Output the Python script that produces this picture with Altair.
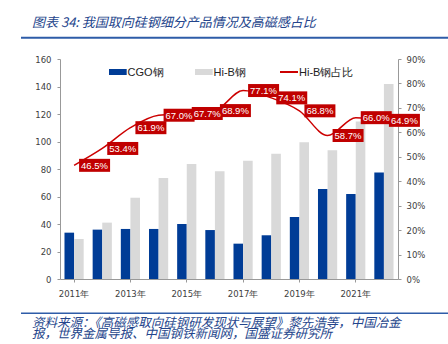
import altair as alt
import pandas as pd

years = ["2011年", "2012年", "2013年", "2014年", "2015年", "2016年",
         "2017年", "2018年", "2019年", "2020年", "2021年", "2022年"]
cgo = [33.7, 35.9, 36.4, 36.4, 40.0, 35.6, 25.7, 31.8, 45.1, 65.5, 61.8, 77.5]
hib = [29.1, 41.0, 59.1, 73.5, 83.6, 78.3, 86.0, 91.1, 99.4, 93.6, 114.6, 141.8]
ratio = [46.5, 53.4, 61.9, 67.0, 67.7, 68.9, 77.1, 74.1, 68.8, 58.7, 66.0, 64.9]
series = ["CGO钢", "Hi-B钢", "Hi-B钢占比"]
colors = ["#003C96", "#D9D9D9", "#CC0000"]
left_ticks = [0, 20, 40, 60, 80, 100, 120, 140, 160]
right_ticks = [0, 10, 20, 30, 40, 50, 60, 70, 80, 90]

title_text = "图表 34:  我国取向硅钢细分产品情况及高磁感占比"
source1 = "资料来源：《高磁感取向硅钢研发现状与展望》黎先浩等，中国冶金"
source2 = "报，世界金属导报、中国钢铁新闻网，国盛证券研究所"

cgo_df = pd.DataFrame({"year": years, "value": cgo})
hib_df = pd.DataFrame({"year": years, "value": hib})
line_df = pd.DataFrame({"year": years, "ratio": ratio,
                        "label": [f"{r:.1f}%" for r in ratio]})
dummy = pd.DataFrame({"a": [0]})

FONT = "DejaVu Sans"
LFONT = "Liberation Sans"
CJK = "Noto Sans CJK SC"

x_axis = alt.Axis(
    labelAngle=0, values=years[::2], tickSize=3, labelPadding=7,
    labelFont=FONT, labelFontSize=8.5, labelColor="#404040",
    domainColor="#999999", tickColor="#999999",
)
x_enc = alt.X("year:N", title=None, axis=x_axis)

bars_cgo = alt.Chart(cgo_df).mark_bar(width=9.6, xOffset=-4.8, color=colors[0]).encode(
    x=x_enc,
    y=alt.Y("value:Q", title=None, scale=alt.Scale(domain=[0, 160]),
            axis=alt.Axis(orient="left", values=left_ticks, grid=False,
                          tickSize=3, labelPadding=6,
                          labelFont=FONT, labelFontSize=8.5, labelColor="#404040",
                          domainColor="#999999", tickColor="#999999")),
)

bars_hib = alt.Chart(hib_df).mark_bar(width=9.6, xOffset=4.8, color=colors[1]).encode(
    x=x_enc,
    y=alt.Y("value:Q", title=None, scale=alt.Scale(domain=[0, 160]), axis=None),
)

line = alt.Chart(line_df).mark_line(
    strokeWidth=1.5, interpolate="monotone", color=colors[2]
).encode(
    x=x_enc,
    y=alt.Y("ratio:Q", title=None, scale=alt.Scale(domain=[0, 90]),
            axis=alt.Axis(orient="right", values=right_ticks,
                          grid=False, tickSize=3, labelPadding=5,
                          labelExpr="datum.value + '%'",
                          labelFont=FONT, labelFontSize=8.5, labelColor="#404040",
                          domainColor="#999999", tickColor="#999999")),
)

boxes = alt.Chart(line_df).mark_tick(
    size=31, thickness=13, xOffset=20.5, color="#C00000", opacity=1,
).encode(
    x=x_enc,
    y=alt.Y("ratio:Q", scale=alt.Scale(domain=[0, 90]), axis=None),
)

labels = alt.Chart(line_df).mark_text(
    align="left", baseline="middle", dx=7, dy=0.5, color="white",
    font=LFONT, fontSize=9.5,
).encode(
    x=x_enc,
    y=alt.Y("ratio:Q", scale=alt.Scale(domain=[0, 90]), axis=None),
    text="label:N",
)

leg_cgo = alt.Chart(dummy).mark_rect(color=colors[0]).encode(
    x=alt.value(49), x2=alt.value(66.7), y=alt.value(10), y2=alt.value(16))
leg_hib = alt.Chart(dummy).mark_rect(color=colors[1]).encode(
    x=alt.value(135), x2=alt.value(152.7), y=alt.value(10), y2=alt.value(16))
leg_line = alt.Chart(dummy).mark_rule(color=colors[2], strokeWidth=2).encode(
    x=alt.value(220), x2=alt.value(238), y=alt.value(13))
leg_texts = [
    alt.Chart(dummy).mark_text(align="left", baseline="middle", font=LFONT,
                               fontSize=11, color="#222222").encode(
        x=alt.value(xp), y=alt.value(13.5), text=alt.value(s))
    for xp, s in zip([67.5, 153.5, 239], series)
]

title = alt.Chart(dummy).mark_text(
    align="left", baseline="middle", font=CJK, fontSize=13, fontStyle="italic",
    color="#24458C",
).encode(x=alt.value(-28), y=alt.value(-36), text=alt.value(title_text))

top_rule = alt.Chart(dummy).mark_rule(color="#2E5CA8", strokeWidth=2).encode(
    x=alt.value(-39), x2=alt.value(388), y=alt.value(-21.3))
bottom_rule = alt.Chart(dummy).mark_rule(color="#2E5CA8", strokeWidth=1.6).encode(
    x=alt.value(-39), x2=alt.value(388), y=alt.value(254.3))

src1 = alt.Chart(dummy).mark_text(
    align="left", baseline="middle", font=CJK, fontSize=12.5, fontStyle="italic",
    color="#24458C",
).encode(x=alt.value(-28), y=alt.value(264), text=alt.value(source1))
src2 = alt.Chart(dummy).mark_text(
    align="left", baseline="middle", font=CJK, fontSize=12.5, fontStyle="italic",
    color="#24458C",
).encode(x=alt.value(-28), y=alt.value(274.5), text=alt.value(source2))

chart = alt.layer(
    bars_cgo, bars_hib, line, boxes, labels,
    leg_cgo, leg_hib, leg_line, *leg_texts,
    title, top_rule, bottom_rule, src1, src2,
).resolve_scale(y="independent").properties(
    width=338, height=220,
    autosize=alt.AutoSizeParams(type="none"),
    padding={"left": 60, "top": 59, "right": 50, "bottom": 65},
).configure_view(stroke=None)

chart.save("out.html", embed_options={"renderer": "svg", "actions": False})
